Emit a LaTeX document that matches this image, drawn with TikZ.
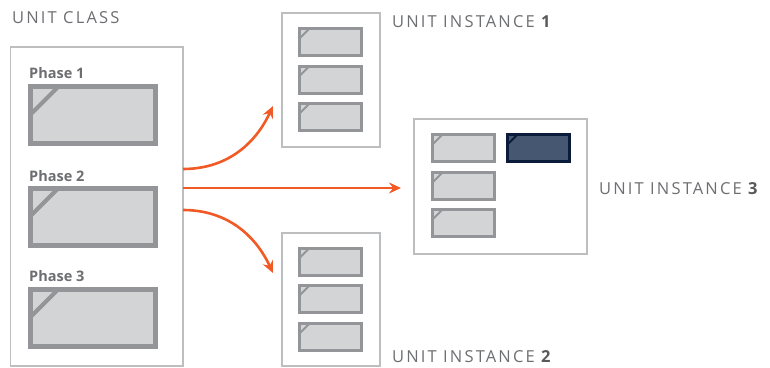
\documentclass[tikz,border=0pt]{standalone}
\usepackage{fontspec}
\setmainfont{Open Sans}
\newfontfamily\capsfont[LetterSpace=13]{Open Sans}
\usetikzlibrary{arrows.meta}
\definecolor{boxfill}{HTML}{D3D4D6}
\definecolor{boxline}{HTML}{939598}
\definecolor{frameline}{HTML}{BCBEC0}
\definecolor{darkfill}{HTML}{465771}
\definecolor{darkline}{HTML}{0B1C3A}
\definecolor{flow}{HTML}{F15A24}
\definecolor{txtgray}{HTML}{6D6E71}
\definecolor{numgray}{HTML}{58595B}
\tikzset{
  framebox/.style={draw=frameline,line width=1.3pt,fill=white},
  phasebox/.style={rectangle,fill=boxfill,draw=boxline,line width=5pt,minimum width=125pt,minimum height=57pt,inner sep=0pt,
    path picture={\draw[boxline,line width=4pt] ([xshift=-3pt,yshift=-31pt]path picture bounding box.north west) -- ([xshift=31pt,yshift=3pt]path picture bounding box.north west);}},
  slotbox/.style={rectangle,fill=boxfill,draw=boxline,line width=3pt,minimum width=62pt,minimum height=27pt,inner sep=0pt,
    path picture={\draw[boxline,line width=2pt] ([xshift=-2pt,yshift=-12pt]path picture bounding box.north west) -- ([xshift=12pt,yshift=2pt]path picture bounding box.north west);}},
  darkslot/.style={slotbox,fill=darkfill,draw=darkline,
    path picture={\draw[darkline,line width=2pt] ([xshift=-2pt,yshift=-12pt]path picture bounding box.north west) -- ([xshift=12pt,yshift=2pt]path picture bounding box.north west);}},
  caption/.style={anchor=base west,inner sep=0pt,text=txtgray,font=\capsfont\fontsize{16.5}{18}\selectfont},
  phaselabel/.style={anchor=base west,inner sep=0pt,text=txtgray,font=\bfseries\fontsize{14.5}{16}\selectfont},
  flowarrow/.style={draw=flow,line width=2.6pt,-{Stealth[length=12pt,width=11pt,inset=4pt]}}
}
\begin{document}
\begin{tikzpicture}[x=1pt,y=-1pt]
    \useasboundingbox (0,0) rectangle (770,367);
    % unit class
    \node[caption] (classcap) at (12,23) {UNIT CLASS};
    \draw[framebox] (10.5,47) rectangle (183,366);
    \coordinate (classeast) at (183,188);
    \node[phaselabel] (ph1lab) at (29,78) {Phase 1};
    \node[phasebox] (ph1) at (93,115) {};
    \node[phaselabel] (ph2lab) at (29,181) {Phase 2};
    \node[phasebox] (ph2) at (93,216.5) {};
    \node[phaselabel] (ph3lab) at (29,281) {Phase 3};
    \node[phasebox] (ph3) at (93,317.5) {};
    % unit instance 1
    \draw[framebox] (282,13) rectangle (380,147);
    \foreach \y/\n in {42/a,79.5/b,117/c}
        \node[slotbox] (i1\n) at (330.5,\y) {};
    \node[caption] (inst1cap) at (392,27) {UNIT INSTANCE\ {\color{numgray}\bfseries 1}};
    % unit instance 2
    \draw[framebox] (282,233) rectangle (380,366);
    \foreach \y/\n in {261.5/a,299/b,337/c}
        \node[slotbox] (i2\n) at (330.5,\y) {};
    \node[caption] (inst2cap) at (392,362) {UNIT INSTANCE\ {\color{numgray}\bfseries 2}};
    % unit instance 3
    \draw[framebox] (414,119) rectangle (587,254);
    \foreach \y/\n in {148/a,186/b,223/c}
        \node[slotbox] (i3\n) at (463.5,\y) {};
    \node[darkslot] (i3d) at (538.5,148) {};
    \node[caption] (inst3cap) at (599,194) {UNIT INSTANCE\ {\color{numgray}\bfseries 3}};
    % flows
    \coordinate (up) at (273,106);
    \coordinate (mid) at (401,188);
    \coordinate (down) at (273,273);
    \draw[flowarrow] ([yshift=19pt]classeast) to[out=0,in=245] (up);
    \draw[flowarrow] (classeast) -- (mid);
    \draw[flowarrow] ([yshift=-22pt]classeast) to[out=0,in=115] (down);
\end{tikzpicture}
\end{document}
